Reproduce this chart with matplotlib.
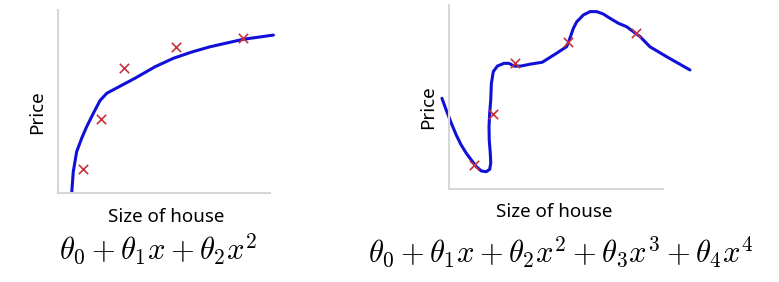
import numpy as np
import matplotlib
matplotlib.use('Agg')
import matplotlib.pyplot as plt

plt.rcParams['mathtext.fontset'] = 'cm'
plt.rcParams['font.family'] = ['Noto Sans', 'DejaVu Sans']

# training examples (size of house, price), same for both panels
size_pts = [1.19, 2.04, 3.09, 5.57, 8.73]
price_pts = [1.31, 4.05, 6.85, 7.98, 8.49]

# quadratic fit
quad_x = [0.65, 0.72, 0.88, 1.12, 1.35, 1.67, 1.98, 2.30, 2.77, 3.63, 4.58, 5.44, 6.30, 7.17, 8.74, 10.16]
quad_y = [0.07, 1.16, 2.26, 3.00, 3.62, 4.36, 5.05, 5.45, 5.74, 6.27, 6.90, 7.36, 7.70, 7.99, 8.40, 8.63]

# quartic fit (overfitting)
quart_x = [-0.33, -0.13, 0.11, 0.34, 0.57, 0.81, 1.04, 1.28, 1.51, 1.74, 1.90, 1.95, 1.93, 1.88,
           1.87, 1.90, 1.95, 1.98, 2.07, 2.26, 2.57, 2.80, 3.04, 3.35, 3.82, 4.36, 5.03, 5.50,
           5.65, 5.81, 5.97, 6.28, 6.59, 6.90, 7.21, 7.52, 7.91, 8.30, 8.93, 9.39, 10.17, 11.26]
quart_y = [4.93, 4.29, 3.57, 2.93, 2.39, 1.94, 1.58, 1.21, 0.98, 0.94, 1.07, 1.40, 1.94, 2.66,
           3.39, 4.11, 4.84, 5.74, 6.38, 6.68, 6.83, 6.83, 6.68, 6.68, 6.79, 6.89, 7.38, 7.74,
           8.19, 8.73, 9.09, 9.46, 9.64, 9.64, 9.51, 9.28, 9.01, 8.82, 8.28, 7.73, 7.19, 6.47]

formulas = [r'$\theta_0 + \theta_1 x + \theta_2 x^2$',
            r'$\theta_0 + \theta_1 x + \theta_2 x^2 + \theta_3 x^3 + \theta_4 x^4$']

W, H = 779, 282
fig = plt.figure(figsize=(W / 100, H / 100), dpi=100)

def px(x, y):
    return x / W, 1 - y / H

def panel(rect, cx, cy):
    ax = fig.add_axes(rect)
    ax.plot(cx, cy, color='#1010d8', lw=2.2, clip_on=False,
            solid_capstyle='round', solid_joinstyle='round')
    ax.scatter(size_pts, price_pts, marker='x', color='#c8323c', s=45, linewidths=1.2,
               zorder=3, clip_on=False)
    ax.set_xlim(0, 10)
    ax.set_ylim(0, 10)
    for s in ['top', 'right']:
        ax.spines[s].set_visible(False)
    for s in ['left', 'bottom']:
        ax.spines[s].set_color('#d6d6d6')
        ax.spines[s].set_linewidth(1.5)
    ax.set_xticks([])
    ax.set_yticks([])
    return ax

panel([58 / W, 1 - 193 / H, 212 / W, 183 / H], quad_x, quad_y)
panel([449 / W, 1 - 189 / H, 214 / W, 184 / H], quart_x, quart_y)

fig.text(*px(166, 217), 'Size of house', ha='center', va='center', fontsize=13.5)
fig.text(*px(554, 212), 'Size of house', ha='center', va='center', fontsize=13.5)
fig.text(*px(37, 112), 'Price', ha='center', va='center', fontsize=13.5, rotation=90)
fig.text(*px(428, 107), 'Price', ha='center', va='center', fontsize=13.5, rotation=90)
fig.text(*px(158, 249), formulas[0], ha='center', va='center', fontsize=22)
fig.text(*px(561, 252), formulas[1], ha='center', va='center', fontsize=22)

fig.savefig('out.png', dpi=100)
